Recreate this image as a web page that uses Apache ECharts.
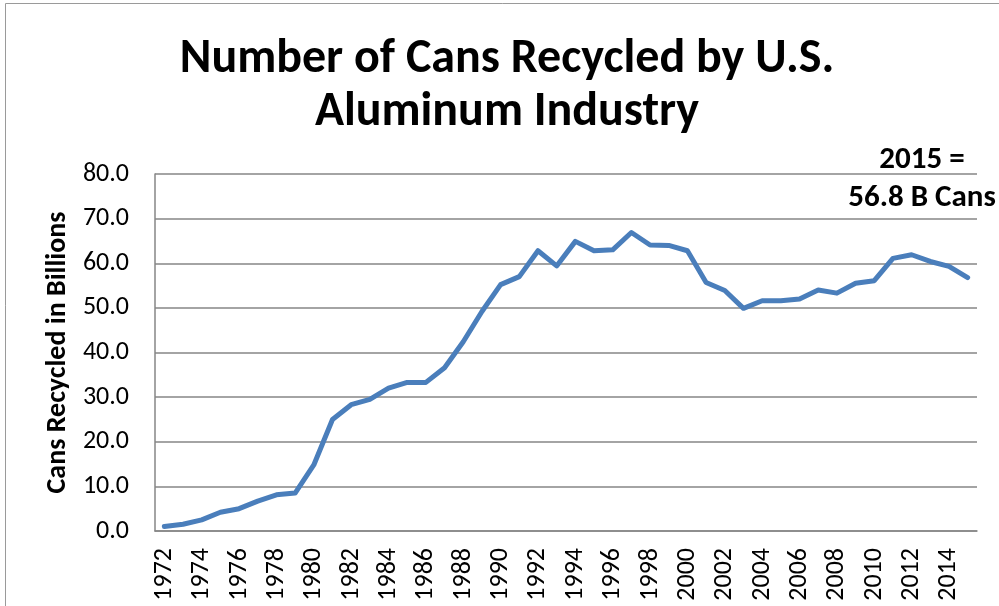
<!DOCTYPE html>
<html>
<head>
<meta charset="utf-8">
<script src="https://cdn.jsdelivr.net/npm/echarts@6/dist/echarts.min.js"></script>
<style>
html,body{margin:0;padding:0;background:#fff;}
#chart{width:999px;height:606px;}
</style>
</head>
<body>
<div id="chart"></div>
<script>
const years = ['1972','1973','1974','1975','1976','1977','1978','1979','1980','1981','1982','1983','1984','1985','1986','1987','1988','1989','1990','1991','1992','1993','1994','1995','1996','1997','1998','1999','2000','2001','2002','2003','2004','2005','2006','2007','2008','2009','2010','2011','2012','2013','2014','2015'];
const cansBillions = [1.0,1.5,2.5,4.2,5.0,6.7,8.1,8.5,14.8,25.0,28.3,29.5,32.0,33.3,33.3,36.6,42.4,49.2,55.2,57.0,62.8,59.4,64.9,62.8,63.0,66.9,64.1,64.0,62.8,55.7,53.9,49.9,51.6,51.6,52.0,54.0,53.3,55.5,56.1,61.1,61.9,60.4,59.3,56.8];
const titleLines = ['Number of Cans Recycled by U.S.', 'Aluminum Industry'];
const yAxisTitle = 'Cans Recycled in Billions';
const noteLines = ['2015 =', '56.8 B Cans'];
const yMin = 0, yMax = 80, yStep = 10;

const FONT = 'Carlito, Lato, "Open Sans", sans-serif';
const chart = echarts.init(document.getElementById('chart'), null, {renderer:'canvas'});
chart.setOption({
  animation: false,
  backgroundColor: '#fff',
  graphic: [
    {type:'rect', shape:{x:5.5, y:3.5, width:1100, height:700}, style:{fill:'none', stroke:'#9a9a9a', lineWidth:1}, z:-1},
    {type:'text', x:507, y:33, style:{text:titleLines.join('\n'), font:'bold 48px ' + FONT, fill:'#000', textAlign:'center', lineHeight:53}},
    {type:'text', x:922, y:141, style:{text:noteLines.join('\n'), font:'bold 31px ' + FONT, fill:'#000', textAlign:'center', lineHeight:38}}
  ],
  grid: {left:155, right:22, top:174, bottom:75, containLabel:false},
  xAxis: {
    type:'category', data: years, boundaryGap:true,
    axisLine:{lineStyle:{color:'#868686', width:1.5}},
    axisTick:{show:false},
    axisLabel:{rotate:90, interval:1, margin:17, color:'#000', fontSize:26, fontFamily:FONT}
  },
  yAxis: {
    type:'value', min:yMin, max:yMax, interval:yStep,
    name: yAxisTitle, nameLocation:'middle', nameGap:82, nameRotate:90,
    nameTextStyle:{fontSize:28, fontWeight:'bold', color:'#000', fontFamily:FONT},
    axisLine:{show:true, lineStyle:{color:'#868686', width:1.5}},
    axisTick:{show:false},
    axisLabel:{margin:26, color:'#000', fontSize:26, fontFamily:FONT, formatter:v=>v.toFixed(1)},
    splitLine:{lineStyle:{color:'#868686', width:1.5}}
  },
  series: [{
    type:'line', data: cansBillions, symbol:'none', smooth:false,
    lineStyle:{color:'#4a7ebb', width:5, cap:'round', join:'round'}
  }]
});
</script>
</body>
</html>
